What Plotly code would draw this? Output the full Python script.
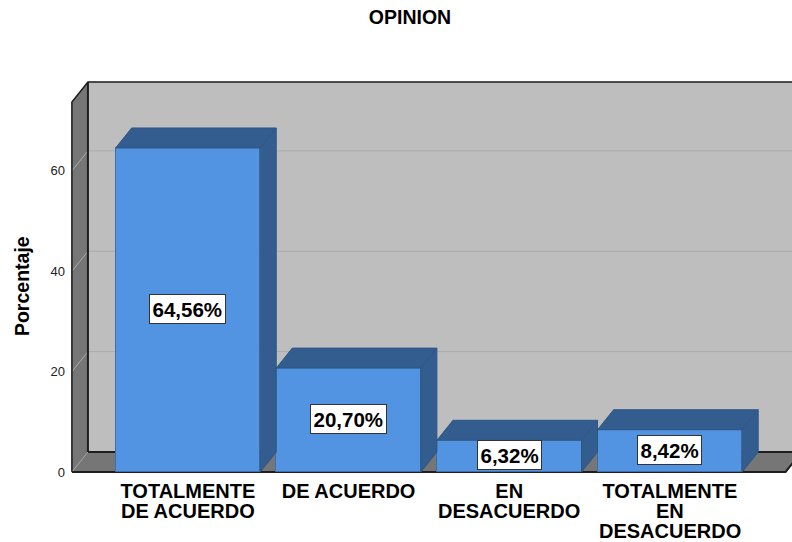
import plotly.graph_objects as go

title = "OPINION"
y_title = "Porcentaje"
categories = ["TOTALMENTE DE ACUERDO", "DE ACUERDO", "EN DESACUERDO", "TOTALMENTE EN DESACUERDO"]
label_lines = [["TOTALMENTE", "DE ACUERDO"], ["DE ACUERDO"], ["EN", "DESACUERDO"], ["TOTALMENTE", "EN", "DESACUERDO"]]
values = [64.56, 20.70, 6.32, 8.42]
value_labels = ["64,56%", "20,70%", "6,32%", "8,42%"]
y_ticks = [0, 20, 40, 60]

FONT = "Liberation Sans, Arial, sans-serif"
WALL, SIDE = "#BEBEBE", "#767676"
FRONT, SHADE = "#5294E2", "#335C8F"
BAR_W = 0.9
DX, DY = 0.0996, 3.98          # apparent depth of the 3D box, in data units
X_LO, X_HI = -0.722, 3.72      # front edge of the floor
Y_TOP = 73.7                   # front edge of the side wall
xs = list(range(len(values)))


def bold(t):
    return f"<b>{t}</b>"


def poly(points, fill, line=None, width=1):
    path = "M" + " L".join(f"{x},{y}" for x, y in points) + " Z"
    return dict(type="path", path=path, xref="x", yref="y", layer="below",
                fillcolor=fill, line=dict(color=line or fill, width=width))


def seg(points, color, width):
    path = "M" + " L".join(f"{x},{y}" for x, y in points)
    return dict(type="path", path=path, xref="x", yref="y", layer="below",
                line=dict(color=color, width=width))


shapes = [
    poly([(X_LO + DX, DY), (X_HI + 2, DY), (X_HI + 2, Y_TOP + DY), (X_LO + DX, Y_TOP + DY)], WALL),
    poly([(X_LO, 0), (X_LO + DX, DY), (X_LO + DX, Y_TOP + DY), (X_LO, Y_TOP)], SIDE),
    poly([(X_LO, 0), (X_LO + DX, DY), (X_HI + 2, DY), (X_HI + DX, DY), (X_HI, 0)], SIDE),
]
for t in y_ticks[1:]:
    shapes.append(seg([(X_LO, t), (X_LO + DX, t + DY), (X_HI + 2, t + DY)], "#ABABAB", 1))
shapes += [
    seg([(X_LO, 0), (X_LO, Y_TOP), (X_LO + DX, Y_TOP + DY), (X_HI + 2, Y_TOP + DY)], "#1E1E1E", 1.5),
    seg([(X_LO + DX, Y_TOP + DY), (X_LO + DX, DY), (X_HI + 2, DY)], "#1E1E1E", 2),
    seg([(X_LO, 0), (X_LO + DX, DY)], "#A8A8A8", 1),
    seg([(X_LO, 0), (X_HI, 0), (X_HI + DX, DY)], "#1E1E1E", 2),
]

fig = go.Figure()
fig.add_trace(go.Bar(x=xs, y=values, width=BAR_W, marker=dict(color=FRONT, line=dict(color="#3F6FA8", width=1)),
                     hoverinfo="skip", showlegend=False))
for x, v in zip(xs, values):
    l, r = x - BAR_W / 2, x + BAR_W / 2
    fig.add_trace(go.Scatter(x=[l, l + DX, r + DX, r, l], y=[v, v + DY, v + DY, v, v], mode="lines", fill="toself",
                             fillcolor=SHADE, line=dict(color="#2F5684", width=1), hoverinfo="skip", showlegend=False))
    fig.add_trace(go.Scatter(x=[r, r + DX, r + DX, r, r], y=[0, DY, v + DY, v, 0], mode="lines", fill="toself",
                             fillcolor=SHADE, line=dict(color="#2F5684", width=1), hoverinfo="skip", showlegend=False))

annotations = []
for x, v, t in zip(xs, values, value_labels):
    annotations.append(dict(x=x, y=v / 2, xref="x", yref="y", yshift=1, text=bold(t), showarrow=False,
                            font=dict(family=FONT, size=20.5, color="#000000"), bgcolor="#FFFFFF",
                            bordercolor="#333333", borderwidth=1, borderpad=2.5))
for x, lines in zip(xs, label_lines):
    for i, line in enumerate(lines[1:], start=1):
        annotations.append(dict(x=x, y=0, xref="x", yref="paper", yanchor="middle", yshift=-17 - 20 * i,
                                text=bold(line), showarrow=False, font=dict(family=FONT, size=20, color="#000000")))
annotations.append(dict(x=-0.0665, y=0.477, xref="paper", yref="paper", xanchor="center", yanchor="middle",
                        text=bold(y_title), textangle=-90, showarrow=False,
                        font=dict(family=FONT, size=19.5, color="#000000")))

fig.update_layout(
    width=792, height=542, margin=dict(l=70, r=0, t=80, b=68),
    paper_bgcolor="#FFFFFF", plot_bgcolor="#FFFFFF", showlegend=False, bargap=0,
    title=dict(text=bold(title), x=410 / 792, xanchor="center", y=1 - 17 / 542, yanchor="middle",
               font=dict(family=FONT, size=19.5, color="#000000")),
    xaxis=dict(range=[-0.734, 3.76], tickmode="array", tickvals=xs, ticktext=[bold(l[0]) for l in label_lines],
               showgrid=False, zeroline=False, showline=False, ticks="", ticklabelstandoff=3,
               tickfont=dict(family=FONT, size=20, color="#000000"), automargin=False),
    yaxis=dict(range=[-0.4, 78.1], tickmode="array", tickvals=y_ticks, showgrid=False, zeroline=False, showline=False,
               ticks="", ticklabelstandoff=4, tickfont=dict(family=FONT, size=13, color="#222222"), automargin=False),
    shapes=shapes, annotations=annotations,
)
fig.write_html("out.html", config=dict(displayModeBar=False),
               post_script="document.body.style.margin='0';document.body.style.overflow='hidden';")
